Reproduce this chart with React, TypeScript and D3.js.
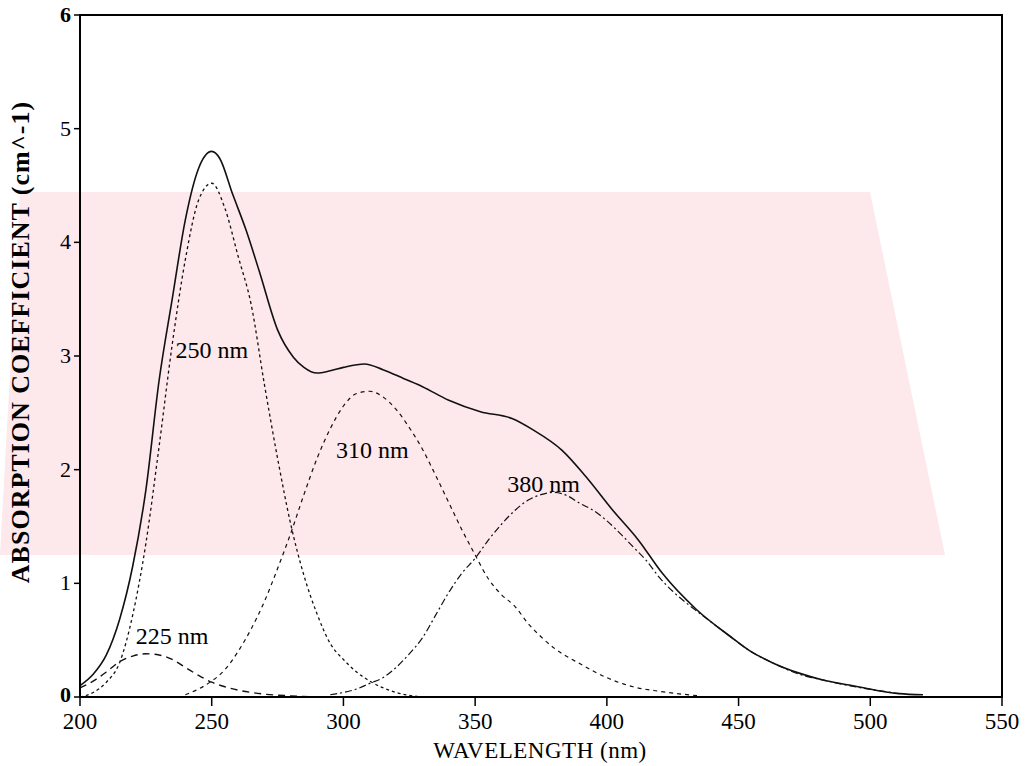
import React from "react";
import * as d3 from "d3";

// wavelength (nm) / absorption coefficient (cm^-1)
const totalNm = [200, 205, 210, 215, 220, 225, 230, 235, 240, 245, 250, 253, 258, 263, 268, 275, 281, 285, 290, 295, 300, 308, 315, 323, 330, 340, 352, 364, 372, 383, 392, 402, 412, 421, 434, 447, 454, 463, 473, 482, 492, 502, 511, 520];
const totalAbs = [0.1, 0.2, 0.37, 0.68, 1.15, 1.82, 2.78, 3.5, 4.2, 4.65, 4.8, 4.74, 4.42, 4.11, 3.75, 3.23, 2.99, 2.9, 2.85, 2.87, 2.9, 2.93, 2.88, 2.8, 2.73, 2.61, 2.51, 2.45, 2.35, 2.17, 1.94, 1.65, 1.38, 1.09, 0.77, 0.53, 0.41, 0.3, 0.21, 0.15, 0.105, 0.06, 0.03, 0.02];

const band225Nm = [200, 205, 210, 215, 220, 225, 230, 235, 240, 245, 250, 255, 260, 265, 270, 280, 290];
const band225Abs = [0.08, 0.14, 0.22, 0.31, 0.36, 0.38, 0.37, 0.33, 0.26, 0.19, 0.13, 0.09, 0.06, 0.04, 0.025, 0.01, 0];

const band250Nm = [200, 205, 210, 215, 220, 225, 230, 235, 240, 245, 250, 255, 260, 265, 270, 275, 280, 285, 290, 295, 300, 305, 310, 320, 330];
const band250Abs = [0.0, 0.04, 0.13, 0.3, 0.72, 1.35, 2.2, 3.1, 3.85, 4.37, 4.52, 4.3, 3.88, 3.45, 2.75, 2.1, 1.52, 1.07, 0.73, 0.47, 0.33, 0.22, 0.14, 0.04, 0.0];

const band310Nm = [240, 245, 250, 255, 260, 265, 270, 275, 280, 285, 290, 295, 300, 305, 310, 315, 320, 325, 330, 335, 340, 345, 350, 355, 360, 365, 370, 375, 380, 390, 400, 410, 420, 435];
const band310Abs = [0.02, 0.07, 0.14, 0.24, 0.4, 0.6, 0.84, 1.13, 1.44, 1.78, 2.1, 2.36, 2.56, 2.67, 2.69, 2.64, 2.53, 2.37, 2.18, 1.95, 1.71, 1.47, 1.25, 1.04, 0.9, 0.8, 0.65, 0.53, 0.43, 0.29, 0.17, 0.09, 0.05, 0.01];

const band380Nm = [295, 300, 305, 310, 315, 320, 325, 330, 335, 340, 345, 350, 355, 360, 365, 370, 375, 380, 385, 390, 395, 400, 405, 410, 415, 420, 425, 430, 435, 447, 454, 463, 473, 482, 492, 502, 511];
const band380Abs = [0.02, 0.04, 0.07, 0.12, 0.17, 0.26, 0.38, 0.52, 0.72, 0.92, 1.09, 1.22, 1.38, 1.52, 1.64, 1.73, 1.78, 1.8, 1.77, 1.7, 1.64, 1.55, 1.44, 1.32, 1.2, 1.05, 0.93, 0.83, 0.74, 0.53, 0.41, 0.3, 0.2, 0.15, 0.1, 0.06, 0.03];

const xTicks = [200, 250, 300, 350, 400, 450, 500, 550];
const yTicks = [0, 1, 2, 3, 4, 5, 6];

const bandLabels = ["225 nm", "250 nm", "310 nm", "380 nm"];
const labelNm = [235, 250, 311, 376];
const labelAbs = [0.47, 2.98, 2.1, 1.8];

const W = 1025;
const H = 766;
const serif = "'Liberation Serif', 'DejaVu Serif', serif";

const toPts = (nm: number[], abs: number[]) => nm.map((n, i) => [n, abs[i]] as [number, number]);

export default function App() {
  const x = d3.scaleLinear().domain([200, 550]).range([80, 1002]);
  const y = d3.scaleLinear().domain([0, 6]).range([697, 15]);
  const line = d3.line<[number, number]>().x(d => x(d[0])).y(d => y(d[1])).curve(d3.curveMonotoneX);

  const curves = [
    { pts: toPts(band225Nm, band225Abs), dash: "7,5", w: 1.4 },
    { pts: toPts(band250Nm, band250Abs), dash: "3,3", w: 1.3 },
    { pts: toPts(band310Nm, band310Abs), dash: "4,4", w: 1.2 },
    { pts: toPts(band380Nm, band380Abs), dash: "7,3,2,3", w: 1.2 },
    { pts: toPts(totalNm, totalAbs), dash: null, w: 1.6 },
  ];

  // faint pink watermark band behind the plot
  const pink = "#fde8ec";
  const wmTop = 192;
  const wmBot = 555;

  return (
    <div style={{ position: "absolute", left: 0, top: 0 }}>
      <svg width={W} height={H} style={{ display: "block", background: "#fff" }}>
        <polygon fill={pink} points={`20,${wmTop} 870,${wmTop} 945,${wmBot} 0,${wmBot}`} />

        {curves.map((c, i) => (
          <path key={i} d={line(c.pts) || ""} fill="none" stroke="#111"
            strokeWidth={c.w} strokeDasharray={c.dash || undefined} />
        ))}

        <rect x={x(200)} y={y(6)} width={x(550) - x(200)} height={y(0) - y(6)}
          fill="none" stroke="#000" strokeWidth={2} />

        {xTicks.map(t => (
          <g key={t}>
            <line x1={x(t)} x2={x(t)} y1={y(0)} y2={y(0) + 9} stroke="#000" strokeWidth={1.5} />
            <text x={x(t)} y={y(0) + 32} textAnchor="middle" fontFamily={serif} fontSize={23}>{t}</text>
          </g>
        ))}
        {yTicks.map(t => (
          <g key={t}>
            <line x1={x(200) - 6} x2={x(200)} y1={y(t)} y2={y(t)} stroke="#000" strokeWidth={1.5} />
            <text x={x(200) - 9} y={y(t) + (t === 0 ? 5 : 7)} textAnchor="end" fontFamily={serif} fontSize={22}
              fontWeight={t === 0 || t === 6 ? "bold" : "normal"}>{t}</text>
          </g>
        ))}

        {bandLabels.map((s, i) => (
          <text key={s} x={x(labelNm[i])} y={y(labelAbs[i])} textAnchor="middle"
            fontFamily={serif} fontSize={24}>{s}</text>
        ))}

        <text x={540} y={758} textAnchor="middle" fontFamily={serif} fontSize={23} letterSpacing={0.5}>
          WAVELENGTH (nm)
        </text>
        <text transform="translate(29,342) rotate(-90)" textAnchor="middle" fontFamily={serif}
          fontSize={26} fontWeight="bold" letterSpacing={1}>
          ABSORPTION COEFFICIENT (cm^-1)
        </text>
      </svg>
    </div>
  );
}
